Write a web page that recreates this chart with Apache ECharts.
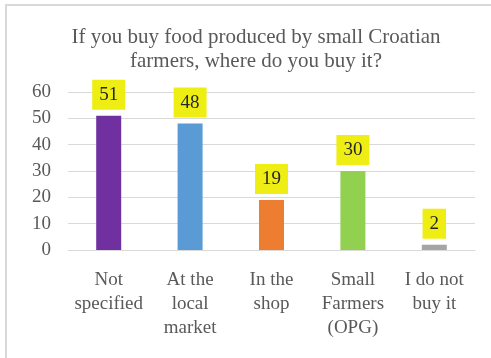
<!DOCTYPE html>
<html>
<head>
<meta charset="utf-8">
<script src="https://cdn.jsdelivr.net/npm/echarts@6/dist/echarts.min.js"></script>
<style>
  html, body { margin: 0; padding: 0; background: #ffffff; }
  #chart { width: 491px; height: 358px; }
</style>
</head>
<body>
<div id="chart"></div>
<script>
// Where respondents buy food produced by small Croatian farmers
const categories = ['Not\nspecified', 'At the\nlocal\nmarket', 'In the\nshop', 'Small\nFarmers\n(OPG)', 'I do not\nbuy it'];
const counts = [51, 48, 19, 30, 2];
const barColors = ['#7030A0', '#5B9BD5', '#ED7D31', '#92D050', '#A5A5A5'];
const yTicks = { min: 0, max: 60, interval: 10 };

const SERIF = "'Liberation Serif', 'Times New Roman', serif";

const chart = echarts.init(document.getElementById('chart'), null, { renderer: 'canvas' });

chart.setOption({
  backgroundColor: '#ffffff',
  animation: false,
  graphic: [{
    type: 'rect',
    shape: { x: 6, y: 5, width: 700, height: 700 },
    style: { fill: 'none', stroke: '#d9d9d9', lineWidth: 2 },
    z: -10
  }],
  title: {
    text: 'If you buy food produced by small Croatian\nfarmers, where do you buy it?',
    left: 251,
    textAlign: 'center',
    top: 20,
    textStyle: {
      fontFamily: SERIF,
      fontSize: 21,
      fontWeight: 'normal',
      color: '#595959',
      lineHeight: 24
    }
  },
  grid: { left: 68, right: 16, top: 92, bottom: 108 },
  xAxis: {
    type: 'category',
    data: categories,
    axisLine: { show: true, lineStyle: { color: '#d9d9d9', width: 1 } },
    axisTick: { show: false },
    axisLabel: {
      interval: 0,
      margin: 18,
      fontFamily: SERIF,
      fontSize: 19,
      lineHeight: 24,
      color: '#595959'
    }
  },
  yAxis: {
    type: 'value',
    min: yTicks.min,
    max: yTicks.max,
    interval: yTicks.interval,
    axisLine: { show: false },
    axisTick: { show: false },
    splitLine: { lineStyle: { color: '#d9d9d9', width: 1 } },
    axisLabel: {
      margin: 17,
      fontFamily: SERIF,
      fontSize: 19,
      color: '#595959'
    }
  },
  series: [{
    type: 'bar',
    data: counts.map((v, i) => ({ value: v, itemStyle: { color: barColors[i] } })),
    barWidth: 25,
    label: {
      show: true,
      position: 'top',
      distance: 6,
      fontFamily: SERIF,
      fontSize: 19,
      color: '#262626',
      backgroundColor: '#EEEE14',
      padding: [6, 7, 5, 7]
    }
  }]
});
</script>
</body>
</html>
